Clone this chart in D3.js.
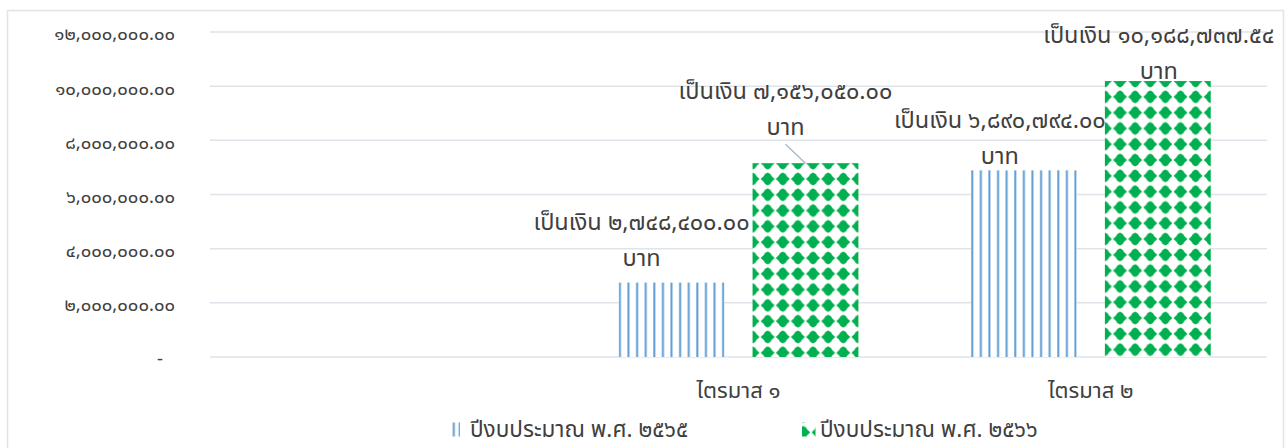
<!DOCTYPE html>
<html>
<head>
<meta charset="utf-8">
<script src="https://cdn.jsdelivr.net/npm/d3@7"></script>
<style>
  body { margin: 0; background: #fff; }
  svg { display: block; font-family: "Noto Sans Thai", "Tahoma", "Leelawadee UI", "Noto Sans", sans-serif; }
</style>
</head>
<body>
<svg width="1288" height="448"></svg>
<script>
// data
const categories = ['', 'ไตรมาส ๑', 'ไตรมาส ๒'];
const seriesNames = ['ปีงบประมาณ พ.ศ. ๒๕๖๕', 'ปีงบประมาณ พ.ศ. ๒๕๖๖'];
const values2565 = [null, 2748400, 6890794];
const values2566 = [null, 7156050, 10188737.54];
const yTicks = [0, 2000000, 4000000, 6000000, 8000000, 10000000, 12000000];

// label nudges (Excel placed them by hand)
const labelNudge = [
  [null, { dx: -30, dy: -25, lead: false }, { dx: -24, dy: -15, lead: false }],
  [null, { dx: -20, dy: -36, lead: true }, { dx: 1, dy: -10, lead: false }]
];

const thaiDigits = '๐๑๒๓๔๕๖๗๘๙';
const toThai = s => String(s).replace(/[0-9]/g, d => thaiDigits[+d]);
const fmt = d3.format(',.2f');

const svg = d3.select('svg');
const colors = ['#5b9bd5', '#00b050'];
const gridColor = '#dfe3ea';
const textColor = '#404040';

// chart frame
svg.append('rect').attr('x', 7.5).attr('y', 10.5).attr('width', 1276).attr('height', 460)
  .attr('fill', 'none').attr('stroke', '#dfe3ea').attr('stroke-width', 1.5);

const defs = svg.append('defs');

// vertical stripes, first stripe on the left edge
function vertPattern(id, x, period) {
  const p = defs.append('pattern').attr('id', id).attr('patternUnits', 'userSpaceOnUse')
    .attr('x', x).attr('y', 0).attr('width', period).attr('height', 8);
  p.append('rect').attr('width', period).attr('height', 8).attr('fill', '#fff');
  p.append('rect').attr('x', 0.3).attr('width', 2).attr('height', 8).attr('fill', colors[0]);
  return `url(#${id})`;
}

// solid diamonds, centred on the tile corners
function dmndPattern(id, x, y, pw, ph) {
  const p = defs.append('pattern').attr('id', id).attr('patternUnits', 'userSpaceOnUse')
    .attr('x', x).attr('y', y).attr('width', pw).attr('height', ph);
  p.append('rect').attr('width', pw).attr('height', ph).attr('fill', '#fff');
  const rx = pw / 2 - 0.6, ry = ph / 2 - 1.4;
  const shape = (cx, cy) => {
    const pts = [[0, -1], [0.28, -0.82], [0.45, -0.7], [0.55, -0.45], [1, 0],
                 [0.55, 0.45], [0.45, 0.7], [0.28, 0.82], [0, 1],
                 [-0.28, 0.82], [-0.45, 0.7], [-0.55, 0.45], [-1, 0],
                 [-0.55, -0.45], [-0.45, -0.7], [-0.28, -0.82]];
    return 'M' + pts.map(q => `${cx + q[0] * rx},${cy + q[1] * ry}`).join('L') + 'Z';
  };
  [[0, 0], [pw, 0], [0, ph], [pw, ph]].forEach(c =>
    p.append('path').attr('d', shape(c[0], c[1])).attr('fill', colors[1]));
  return `url(#${id})`;
}

// scales
const x0 = d3.scaleBand().domain(categories.map((c, i) => i)).range([210, 1267]);
const x1 = d3.scaleBand().domain([0, 1]).range([0, x0.bandwidth()]).paddingInner(0.21).paddingOuter(0.42);
const y = d3.scaleLinear().domain([0, 12000000]).range([357, 32]);

// grid
svg.append('g').selectAll('line').data(yTicks).join('line')
  .attr('x1', 210).attr('x2', 1267)
  .attr('y1', d => y(d)).attr('y2', d => y(d))
  .attr('stroke', gridColor).attr('stroke-width', 1.5);

// y tick labels
svg.append('g').selectAll('text').data(yTicks).join('text')
  .attr('x', d => d === 0 ? 163 : 175).attr('y', d => y(d) + 2).attr('dy', '0.35em')
  .attr('text-anchor', 'end').attr('font-size', 18.5).attr('fill', textColor)
  .text(d => d === 0 ? '-' : toThai(fmt(d)));

// x labels
svg.append('g').selectAll('text').data(categories).join('text')
  .attr('x', (d, i) => x0(i) + x0.bandwidth() / 2).attr('y', 390).attr('dy', '0.35em')
  .attr('text-anchor', 'middle').attr('font-size', 22).attr('fill', textColor)
  .text(d => d);

// bars
const series = [values2565, values2566];
series.forEach((vals, s) => {
  const pts = vals.map((v, i) => ({ v, i })).filter(d => d.v != null);
  const bx = d => x0(d.i) + x1(s);
  svg.append('g').selectAll('rect').data(pts).join('rect')
    .attr('x', bx).attr('width', x1.bandwidth())
    .attr('y', d => y(d.v)).attr('height', d => y(0) - y(d.v))
    .attr('fill', d => s === 0
      ? vertPattern(`pv${d.i}`, bx(d), x1.bandwidth() / 12.3)
      : dmndPattern(`pd${d.i}`, bx(d), y(d.v), x1.bandwidth() / 7, 15.8));

  // data labels
  const lg = svg.append('g').selectAll('g').data(pts).join('g')
    .attr('transform', d => {
      const n = labelNudge[s][d.i];
      return `translate(${bx(d) + x1.bandwidth() / 2 + n.dx},${y(d.v) + n.dy})`;
    });
  lg.append('text').attr('y', -36).attr('text-anchor', 'middle').attr('font-size', 23.5)
    .attr('fill', textColor).attr('dy', '0.35em')
    .text(d => 'เป็นเงิน ' + toThai(fmt(d.v)));
  lg.append('text').attr('y', 0).attr('text-anchor', 'middle').attr('font-size', 23.5)
    .attr('fill', textColor).attr('dy', '0.35em')
    .text('บาท');
  lg.filter(d => labelNudge[s][d.i].lead).append('line')
    .attr('x1', 0).attr('y1', 17)
    .attr('x2', d => -labelNudge[s][d.i].dx).attr('y2', d => -labelNudge[s][d.i].dy)
    .attr('stroke', '#a6b4c8').attr('stroke-width', 1.2);
});

// legend
const legX = [451, 802];
const legFill = [vertPattern('pvLeg', 451.5, 6), dmndPattern('pdLeg', 802, 429.5, 15.4, 15.8)];
const leg = svg.append('g').selectAll('g').data(seriesNames).join('g')
  .attr('transform', (d, i) => `translate(${legX[i]},429.5)`);
leg.append('rect').attr('y', -7).attr('width', (d, i) => i ? 13.5 : 9).attr('height', 14)
  .attr('fill', (d, i) => legFill[i]);
leg.append('text').attr('x', (d, i) => i ? 18 : 19).attr('dy', '0.35em')
  .attr('font-size', 22.5).attr('fill', textColor).text(d => d);
</script>
</body>
</html>
